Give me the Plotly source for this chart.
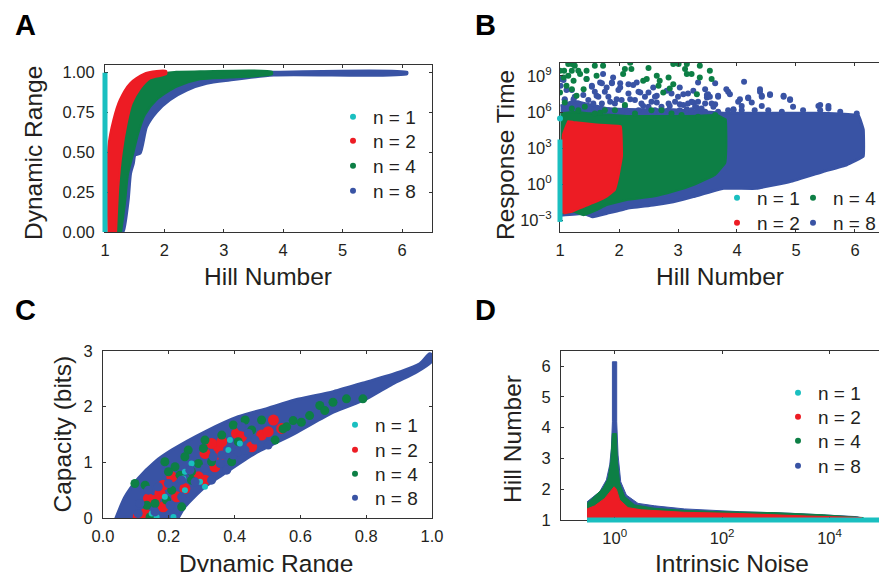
import plotly.graph_objects as go

W, H = 879, 572
CYAN, RED, GREEN, BLUE = "#1ABFC0", "#ED1C24", "#0D7F45", "#3953A4"
FONT = "Liberation Sans"
INK = "#231F20"
SERIES = ["n = 1", "n = 2", "n = 4", "n = 8"]
COLORS = [CYAN, RED, GREEN, BLUE]

# Panel A: Hill number vs dynamic range, outlines of the dense clouds
a_cyan_x = [1.0, 1.0]
a_cyan_y = [0.0, 1.0]
a_red_x = [1.056, 1.056, 1.14, 1.25, 1.42, 1.645, 1.87, 2.03, 2.03, 1.76, 1.59, 1.45, 1.365, 1.28, 1.225, 1.185]
a_red_y = [-0.02, 0.535, 0.703, 0.83, 0.933, 0.991, 1.01, 1.01, 0.99, 0.964, 0.90, 0.807, 0.682, 0.494, 0.284, -0.02]
a_green_x = [1.1, 1.3, 1.7, 2.2, 2.6, 3.81, 3.81, 3.10, 2.6, 2.21, 1.87, 1.67, 1.56, 1.477, 1.39, 1.336, 1.265]
a_green_y = [-0.02, 0.8, 0.97, 1.005, 1.008, 1.006, 0.99, 0.97, 0.958, 0.912, 0.83, 0.734, 0.619, 0.494, 0.368, 0.18, -0.02]
a_blue_x = [1.15, 1.6, 3.0, 3.84, 6.08, 6.08, 3.84, 3.10, 2.71, 2.375, 2.09, 1.87, 1.70, 1.59, 1.505, 1.477, 1.43, 1.39, 1.32, 1.28]
a_blue_y = [-0.02, 0.8, 1.0, 1.003, 1.003, 0.992, 0.985, 0.954, 0.933, 0.891, 0.83, 0.755, 0.661, 0.494, 0.483, 0.43, 0.368, 0.2, 0.02, -0.02]

# Panel B: Hill number vs log10(response time), cloud outlines and scattered points
b_cyan_x = [1.0, 1.0]
b_cyan_log = [-3.13, 3.72]
b_cyan_dot_x = [1.0]
b_cyan_dot_log = [5.47]
b_red_x = [1.00, 1.05, 1.14, 1.23, 1.62, 2.03, 2.05, 1.99, 1.93, 1.79, 1.62, 1.40, 1.20, 1.06]
b_red_log = [-2.43, 4.13, 5.25, 5.17, 4.97, 4.83, 2.32, 0.64, -0.47, -1.03, -1.45, -1.87, -2.29, -2.43]
b_green_x = [1.01, 1.23, 1.51, 1.79, 2.13, 2.47, 2.92, 3.37, 3.66, 3.81, 3.82, 3.80, 3.63, 3.26, 2.92, 2.58, 2.13, 1.79, 1.62, 1.40, 1.23, 1.01]
b_green_log = [5.9, 6.0, 5.9, 5.8, 5.67, 5.67, 5.67, 5.7, 5.75, 5.39, 3.16, 1.76, 0.78, -0.06, -0.61, -1.03, -1.31, -1.73, -2.15, -2.57, -2.29, -2.43]
b_blue_x = [1.01, 1.23, 1.51, 1.79, 2.36, 2.92, 3.20, 3.77, 4.33, 4.90, 5.35, 5.75, 6.06, 6.14, 6.14, 5.86, 5.46, 4.90, 4.33, 3.77, 3.26, 2.92, 2.58, 2.13, 1.79, 1.56, 1.40, 1.01]
b_blue_log = [6.5, 6.9, 6.6, 6.3, 6.2, 6.2, 6.1, 5.9, 5.9, 5.9, 5.9, 5.85, 5.7, 4.55, 2.32, 1.62, 1.06, 0.22, -0.34, -0.34, -1.03, -1.45, -1.73, -2.01, -2.43, -2.71, -2.43, -2.57]
b_green_dots_x = [1.00, 1.07, 1.00, 1.14, 1.20, 1.25, 1.31, 1.45, 1.62, 1.59, 1.73, 2.10, 2.19, 2.21, 2.50, 2.07, 2.47, 2.64, 2.41, 2.69, 2.84, 2.67, 2.75, 2.92, 3.01, 3.15, 3.12, 3.15, 3.37, 3.54, 3.57, 3.23, 3.37, 3.32, 2.92, 2.86, 1.14, 1.23, 1.34, 1.45, 1.20, 1.11, 1.28, 1.06, 1.08, 1.20, 1.40, 1.68,
                  1.20, 1.31, 1.42, 1.59, 1.76, 1.93, 2.10, 2.27, 2.55, 2.72, 2.89, 3.06, 3.34, 3.63]
b_green_dots_log = [9.44, 9.44, 7.63, 10.0, 10.0, 9.86, 9.44, 9.44, 9.02, 9.86, 9.86, 9.58, 10.1, 9.58, 9.66, 9.16, 8.74, 9.02, 8.6, 8.6, 8.88, 8.18, 7.63, 10.0, 10.0, 10.0, 9.58, 9.16, 9.86, 9.44, 8.74, 9.16, 8.88, 7.49, 8.32, 7.96, 9.02, 8.6, 9.16, 8.74, 7.9, 8.18, 7.35, 8.88, 6.79, 9.44, 7.9, 5.95,
                    6.30, 6.16, 6.44, 5.89, 6.16, 6.16, 6.58, 5.89, 6.16, 6.16, 5.89, 5.75, 5.61, 5.75]
b_blue_dots_x = [1.00, 1.01, 1.08, 1.23, 1.45, 1.73, 1.90, 1.54, 1.68, 1.79, 1.88, 2.02, 2.16, 2.30, 2.36, 2.50, 2.58, 2.64, 2.81, 3.03, 3.09, 3.26, 3.34, 3.46, 3.51, 3.49, 3.68, 3.82, 3.88, 4.12, 4.05, 4.19, 4.25, 4.39, 4.42, 4.56, 4.79, 4.90, 5.38, 5.55, 4.42, 4.08, 3.94, 3.26, 3.32, 3.03, 3.15, 3.63, 2.86, 2.64, 2.41, 2.19, 1.96, 1.62,
                 1.08, 1.14, 1.20, 1.31, 1.48, 1.59, 1.65, 1.76, 1.88, 1.82, 1.99, 1.93, 2.16, 2.27, 2.10, 2.38, 2.50, 2.61, 2.72, 2.89, 3.00, 3.17, 3.29, 3.40, 3.57, 3.68, 3.63, 3.49, 3.85, 4.02, 4.19, 4.39, 4.42, 4.56, 4.79, 4.90, 4.95, 5.41, 5.55, 4.08, 4.30, 4.53, 4.76, 5.12, 5.41, 5.75, 6.03, 3.85, 3.94, 3.68,
                 1.06, 1.11, 1.25, 1.395, 1.54, 1.71, 1.565, 1.71, 1.85, 2.045, 2.02, 2.24, 2.33, 2.44, 2.33, 2.55, 2.84, 2.95, 3.09, 3.17, 3.23, 3.34, 3.46, 3.54, 3.60, 2.61, 2.84, 3.03, 3.23, 3.46, 1.82, 2.045, 1.59, 1.42, 1.25]
b_blue_dots_log = [8.74, 8.18, 7.07, 7.07, 8.74, 9.16, 8.88, 8.18, 8.46, 8.04, 8.46, 8.04, 8.32, 8.46, 7.63, 7.63, 8.04, 7.35, 7.77, 8.04, 7.49, 7.77, 8.46, 7.9, 7.49, 7.21, 7.35, 7.9, 7.49, 8.52, 7.07, 7.21, 6.79, 7.9, 7.35, 7.49, 7.35, 7.07, 6.51, 6.51, 6.51, 6.51, 6.23, 6.79, 6.37, 6.65, 6.23, 6.65, 6.51, 6.79, 6.51, 7.07, 7.07, 7.35,
                   7.0, 6.44, 7.83, 6.72, 7.0, 7.69, 7.27, 7.69, 8.39, 7.27, 7.83, 6.72, 7.55, 7.0, 6.44, 6.72, 6.44, 7.27, 6.44, 7.55, 7.27, 6.72, 6.44, 6.30, 6.72, 7.27, 8.39, 7.41, 7.69, 6.86, 7.14, 7.69, 7.27, 7.41, 7.27, 7.0, 6.44, 6.58, 6.30, 6.16, 6.16, 6.16, 6.02, 6.16, 6.16, 6.02, 5.89, 6.16, 6.16, 6.02,
                   8.66, 7.83, 7.27, 7.41, 8.11, 8.39, 6.72, 6.72, 6.86, 7.0, 8.39, 8.25, 7.69, 7.27, 6.16, 6.86, 6.72, 6.86, 6.58, 7.55, 6.86, 6.86, 6.72, 7.27, 6.44, 6.16, 6.16, 6.16, 6.16, 6.02, 6.16, 6.02, 6.16, 6.02, 6.44]

# Panel C: dynamic range vs capacity
c_blue_x = [0.036, 0.067, 0.107, 0.158, 0.209, 0.31, 0.411, 0.50, 0.583, 0.70, 0.80, 0.90, 0.963, 0.993, 1.0, 0.998, 0.952, 0.88, 0.80, 0.70, 0.583, 0.462, 0.361, 0.31, 0.249, 0.224]
c_blue_y = [-0.05, 0.38, 0.71, 1.01, 1.22, 1.55, 1.82, 1.97, 2.12, 2.27, 2.44, 2.62, 2.77, 2.95, 2.92, 2.81, 2.62, 2.41, 2.14, 1.90, 1.52, 1.16, 0.77, 0.56, 0.20, -0.05]
c_red_x = [0.350, 0.330, 0.356, 0.310, 0.361, 0.482, 0.502, 0.518, 0.406, 0.421, 0.452, 0.290, 0.209, 0.183, 0.249, 0.138, 0.158, 0.173, 0.107, 0.224, 0.128, 0.183, 0.310, 0.340, 0.543]
c_red_y = [1.28, 1.34, 1.13, 1.16, 1.37, 1.49, 1.55, 1.76, 1.52, 1.46, 1.28, 0.74, 0.74, 0.59, 0.53, 0.35, 0.32, 0.44, 0.02, 0.38, 0.08, 0.20, 0.68, 0.92, 1.61]
c_green_x = [0.259, 0.219, 0.199, 0.188, 0.269, 0.290, 0.305, 0.361, 0.396, 0.432, 0.482, 0.558, 0.411, 0.391, 0.452, 0.209, 0.239, 0.158, 0.133, 0.143, 0.193, 0.097, 0.128, 0.269, 0.310, 0.523, 0.249, 0.330, 0.234, 0.659, 0.699, 0.674, 0.603, 0.578, 0.74, 0.79, 0.628, 0.547]
c_green_y = [1.22, 0.92, 0.83, 1.01, 0.83, 0.98, 1.25, 1.49, 1.67, 1.76, 1.76, 1.64, 1.37, 1.01, 1.58, 0.50, 0.20, 0.26, 0.23, 0.02, 0.32, 0.62, 0.59, 0.68, 1.40, 1.40, 1.10, 1.01, 0.77, 2.02, 2.08, 1.93, 1.72, 1.75, 2.14, 2.14, 1.84, 1.60]
c_cyan_x = [0.269, 0.249, 0.244, 0.295, 0.381, 0.416, 0.386, 0.188, 0.148, 0.163, 0.214, 0.249, 0.310]
c_cyan_y = [0.98, 0.83, 0.71, 0.65, 1.22, 1.34, 1.40, 0.38, 0.08, 0.02, 0.02, 0.50, 0.56]
c_blue_dots_x = [0.335, 0.361, 0.396, 0.411, 0.356, 0.310, 0.264, 0.239, 0.168, 0.138, 0.199, 0.280, 0.204, 0.158, 0.239, 0.112, 0.442, 0.421, 0.462, 0.502, 0.330, 0.376, 0.432, 0.107]
c_blue_dots_y = [1.10, 1.13, 1.13, 1.19, 0.98, 0.89, 0.86, 0.68, 0.56, 0.50, 0.62, 0.65, 0.23, 0.11, 0.38, 0.26, 1.52, 1.64, 1.40, 1.31, 0.68, 0.86, 1.22, 0.08]

# Panel D: log10(intrinsic noise) vs Hill number
d_blue_log = [-0.515, -0.434, -0.279, -0.155, -0.093, -0.062, -0.043, -0.043, 0.037, 0.037, 0.062, 0.112, 0.217, 0.434, 0.744, 1.30, 2.33, 3.26, 3.88, 4.5, 4.63, -0.515]
d_blue_y = [1.59, 1.70, 1.92, 2.30, 2.79, 3.33, 4.19, 6.14, 6.14, 4.19, 3.11, 2.24, 1.81, 1.54, 1.46, 1.36, 1.27, 1.22, 1.16, 1.11, 1.05, 1.0]
d_green_log = [-0.515, -0.372, -0.217, -0.124, -0.074, -0.043, 0.031, 0.05, 0.093, 0.186, 0.372, 0.744, 1.30, 2.0, 2.95, 3.88, 4.63, -0.515]
d_green_y = [1.54, 1.76, 2.03, 2.35, 2.89, 3.81, 3.81, 2.89, 2.19, 1.76, 1.49, 1.38, 1.31, 1.27, 1.24, 1.17, 1.08, 1.0]
d_red_log = [-0.515, -0.372, -0.186, -0.074, -0.012, 0.031, 0.093, 0.248, 0.496, 1.30, 2.33, 3.57, 4.6, -0.515]
d_red_y = [1.36, 1.46, 1.70, 1.97, 2.08, 2.0, 1.65, 1.40, 1.33, 1.25, 1.21, 1.13, 1.08, 1.0]
d_cyan_x = [0.305, 100000]
d_cyan_y = [1.0, 1.0]

a_ticks_x = [1, 2, 3, 4, 5, 6]
a_ticks_y = [0, 0.25, 0.5, 0.75, 1.0]
a_ticklabels_y = ["0.00", "0.25", "0.50", "0.75", "1.00"]
b_ticks_y = [1e-3, 1, 1e3, 1e6, 1e9]
b_ticklabels_y = ["10<sup>\u22123</sup>", "10<sup>0</sup>", "10<sup>3</sup>", "10<sup>6</sup>", "10<sup>9</sup>"]
c_ticks_x = [0, 0.2, 0.4, 0.6, 0.8, 1.0]
c_ticklabels_x = ["0.0", "0.2", "0.4", "0.6", "0.8", "1.0"]
c_ticks_y = [0, 1, 2, 3]
d_ticks_x = [1, 100, 10000]
d_ticklabels_x = ["10<sup>0</sup>", "10<sup>2</sup>", "10<sup>4</sup>"]
d_ticks_y = [1, 2, 3, 4, 5, 6]


def pow10(values):
    return [10 ** v for v in values]


def dom_x(left, right):
    return [left / W, min(right / W, 1)]


def dom_y(top, bottom):
    return [1 - bottom / H, 1 - top / H]


fig = go.Figure()


def cloud(x, y, color, xa, ya, width=2, smooth=0.7):
    line = dict(color=color, width=width)
    if smooth:
        line.update(shape="spline", smoothing=smooth)
    fig.add_trace(go.Scatter(x=x, y=y, mode="lines", fill="toself", fillcolor=color, line=line,
                             xaxis=xa, yaxis=ya, showlegend=False, hoverinfo="skip"))


def dots(x, y, color, xa, ya, size=6):
    fig.add_trace(go.Scatter(x=x, y=y, mode="markers", marker=dict(color=color, size=size),
                             xaxis=xa, yaxis=ya, showlegend=False, hoverinfo="skip"))


def strip(x, y, color, xa, ya):
    fig.add_trace(go.Scatter(x=x, y=y, mode="lines", line=dict(color=color, width=5),
                             xaxis=xa, yaxis=ya, showlegend=False, hoverinfo="skip"))


# A
cloud(a_blue_x, a_blue_y, BLUE, "x", "y", 3)
cloud(a_green_x, a_green_y, GREEN, "x", "y", 2)
cloud(a_red_x, a_red_y, RED, "x", "y", 2)
strip(a_cyan_x, a_cyan_y, CYAN, "x5", "y5")
# B
cloud(b_blue_x, pow10(b_blue_log), BLUE, "x2", "y2", 3, 0.2)
dots(b_blue_dots_x, pow10(b_blue_dots_log), BLUE, "x2", "y2")
cloud(b_green_x, pow10(b_green_log), GREEN, "x2", "y2", 2, 0.2)
dots(b_green_dots_x, pow10(b_green_dots_log), GREEN, "x2", "y2")
cloud(b_red_x, pow10(b_red_log), RED, "x2", "y2", 2, 0.2)
strip(b_cyan_x, pow10(b_cyan_log), CYAN, "x6", "y6")
dots(b_cyan_dot_x, pow10(b_cyan_dot_log), CYAN, "x6", "y6")
# C
cloud(c_blue_x, c_blue_y, BLUE, "x3", "y3", 3)
dots(c_red_x, c_red_y, RED, "x3", "y3", 11)
dots(c_green_x, c_green_y, GREEN, "x3", "y3", 9)
dots(c_cyan_x, c_cyan_y, CYAN, "x3", "y3", 6)
dots(c_blue_dots_x, c_blue_dots_y, BLUE, "x3", "y3", 9)
# D
cloud(pow10(d_blue_log), d_blue_y, BLUE, "x4", "y4", 1, 0)
cloud(pow10(d_green_log), d_green_y, GREEN, "x4", "y4", 1, 0)
cloud(pow10(d_red_log), d_red_y, RED, "x4", "y4", 1, 0)
strip(d_cyan_x, d_cyan_y, CYAN, "x8", "y8")

# One legend per entry so that rows sit as close together as in the reference
legend_defs = {}


def key(i, left, mid):
    name = "legend" if not legend_defs else f"legend{len(legend_defs) + 1}"
    fig.add_trace(go.Scatter(x=[None], y=[None], mode="markers", name=SERIES[i],
                             marker=dict(color=COLORS[i], size=6), legend=name,
                             xaxis="x", yaxis="y", showlegend=True))
    legend_defs[name] = dict(bgcolor="rgba(0,0,0,0)", borderwidth=0, itemwidth=30,
                             font=dict(family=FONT, size=19, color=INK),
                             x=left / W, y=1 - mid / H, xanchor="left", yanchor="middle")


for i, row in enumerate([117, 141, 166, 191]):
    key(i, 333, row)
key(0, 717, 198)
key(1, 717, 223)
key(2, 793, 198)
key(3, 793, 223)
for i, row in enumerate([425, 450, 474, 498]):
    key(i, 335, row)
for i, row in enumerate([393, 417, 441, 466]):
    key(i, 778, row)


def axis(domain, rng, ticks, labels=None, anchor="y", mirror="ticks", kind="linear", gap=3):
    return dict(domain=domain, range=rng, type=kind, anchor=anchor, showgrid=False, zeroline=False,
                showline=True, linecolor="#333333", linewidth=1, mirror=mirror, ticks="inside",
                ticklen=3, tickwidth=1, tickcolor="#333333", tickvals=ticks,
                ticktext=labels if labels else [str(t) for t in ticks],
                tickfont=dict(family=FONT, size=16.5, color=INK), ticklabelstandoff=gap,
                automargin=False)


def hidden(domain, rng, kind="linear"):
    return dict(domain=domain, range=rng, type=kind, visible=False)


def label(text, x, y, angle=0, size=24.5, bold=False, color=INK, xanchor="center"):
    return dict(text=f"<b>{text}</b>" if bold else text, x=x / W, y=1 - y / H, xref="paper", yref="paper",
                showarrow=False, textangle=angle, xanchor=xanchor, yanchor="middle",
                font=dict(family=FONT, size=size, color=color))


PAD = 6

layout = dict(
    width=W, height=H, autosize=False, margin=dict(l=0, r=0, t=0, b=0, autoexpand=False),
    paper_bgcolor="white", plot_bgcolor="rgba(0,0,0,0)",
    font=dict(family=FONT, color=INK), showlegend=True,
    xaxis=axis(dom_x(105, 432), [1, 6.505], a_ticks_x, anchor="y"),
    yaxis=axis(dom_y(65, 232), [0, 1.048], a_ticks_y, a_ticklabels_y, anchor="x", gap=6),
    xaxis2=axis(dom_x(560, 879), [1, 6.407], a_ticks_x, anchor="y2"),
    yaxis2=axis(dom_y(63, 232), [-3.97, 10.08], b_ticks_y, b_ticklabels_y, anchor="x2", mirror=False, kind="log", gap=4),
    xaxis3=axis(dom_x(103, 432), [0, 1], c_ticks_x, c_ticklabels_x, anchor="y3"),
    yaxis3=axis(dom_y(351, 518), [0, 3], c_ticks_y, anchor="x3", gap=6),
    xaxis4=axis(dom_x(561, 879), [-1.0, 4.92], d_ticks_x, d_ticklabels_x, anchor="y4", kind="log"),
    yaxis4=axis(dom_y(351, 520), [1, 6.49], d_ticks_y, anchor="x4", mirror=False, gap=6),
    xaxis5=hidden(dom_x(105 - PAD, 432), [1 - PAD / 59.4, 6.505]),
    yaxis5=hidden(dom_y(65, 232 + PAD), [0 - PAD / 159.4, 1.048]),
    xaxis6=hidden(dom_x(560 - PAD, 879), [1 - PAD / 59.0, 6.407]),
    yaxis6=hidden(dom_y(63, 232), [-3.97, 10.08], "log"),
    xaxis8=hidden(dom_x(561, 879), [-1.0, 4.92], "log"),
    yaxis8=hidden(dom_y(351, 520 + PAD), [1 - PAD / 30.8, 6.49]),
    annotations=[
        label("A", 13, 25, size=29, bold=True, color="#000000", xanchor="left"),
        label("B", 473, 25, size=29, bold=True, color="#000000", xanchor="left"),
        label("C", 13, 310, size=29, bold=True, color="#000000", xanchor="left"),
        label("D", 473, 310, size=29, bold=True, color="#000000", xanchor="left"),
        label("Hill Number", 267.5, 276),
        label("Hill Number", 720, 276),
        label("Dynamic Range", 266, 563),
        label("Intrinsic Noise", 732, 563),
        label("Dynamic Range", 33, 153, angle=-90),
        label("Response Time", 505, 155, angle=-90),
        label("Capacity (bits)", 62, 434.5, angle=-90),
        label("Hill Number", 512, 439, angle=-90),
    ],
    **legend_defs,
)
fig.update_layout(**layout)
fig.write_html("out.html", config=dict(displayModeBar=False, responsive=False),
               post_script="document.body.style.margin='0';document.body.style.overflow='hidden';")
